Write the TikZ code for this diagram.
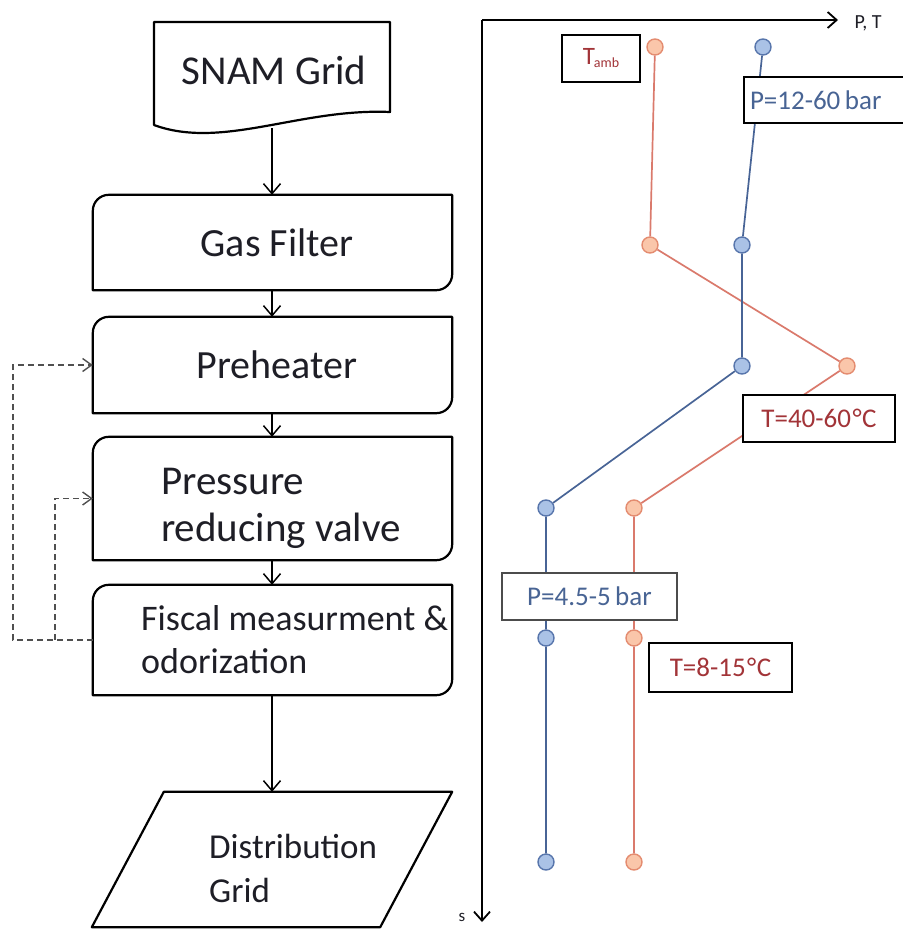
\documentclass[tikz,border=0pt]{standalone}
\usepackage{fontspec}
\setmainfont{Carlito}
\usetikzlibrary{arrows.meta,calc}

\definecolor{ink}{RGB}{30,30,38}
\definecolor{pline}{RGB}{72,100,150}
\definecolor{pfill}{RGB}{170,194,230}
\definecolor{pedge}{RGB}{88,118,172}
\definecolor{ptext}{RGB}{72,100,148}
\definecolor{tline}{RGB}{218,122,108}
\definecolor{tfill}{RGB}{250,198,170}
\definecolor{tedge}{RGB}{228,140,112}
\definecolor{ttext}{RGB}{162,52,56}
\definecolor{dashgray}{RGB}{80,80,80}

% flow box with rounded top-left and bottom-right corners
\newcommand\cutbox[1]{%
  \draw[fb] (#1.south west) -- ($(#1.north west)+(0,16)$)
    to[out=90,in=180] ($(#1.north west)+(16,0)$) -- (#1.north east)
    -- ($(#1.south east)+(0,-16)$)
    to[out=-90,in=0] ($(#1.south east)+(-16,0)$) -- cycle;}

\begin{document}
\begin{tikzpicture}[x=1pt,y=-1pt,
  flowbox/.style={minimum width=359pt, minimum height=#1, inner sep=0pt, draw=none},
  fb/.style={line width=2.2pt, draw=black, line join=round},
  bigtext/.style={font=\fontsize{40}{47}\selectfont, text=ink, inner sep=0pt},
  midtext/.style={font=\fontsize{36}{43}\selectfont, text=ink, inner sep=0pt, align=left},
  flowarrow/.style={-{Straight Barb[length=10pt,width=17pt,line width=1.5pt]}, line width=1.5pt},
  dashline/.style={draw=dashgray, line width=1.8pt, dash pattern=on 6pt off 4pt,
    -{Straight Barb[length=9pt,width=13pt,line width=1.4pt]}},
  axisline/.style={line width=1.8pt, -{Straight Barb[length=9pt,width=16pt,line width=1.8pt]}},
  pdot/.style={circle, minimum size=16pt, inner sep=0pt, fill=pfill, draw=pedge, line width=1.4pt},
  tdot/.style={circle, minimum size=16pt, inner sep=0pt, fill=tfill, draw=tedge, line width=1.4pt},
  pcurve/.style={draw=pline, line width=1.7pt},
  tcurve/.style={draw=tline, line width=1.7pt},
  tag/.style={draw=black, line width=1.8pt, fill=white, inner sep=0pt,
    font=\fontsize{27}{27}\selectfont},
]
\useasboundingbox (0,0) rectangle (903,930);

% ---------------- flow chart ----------------
% SNAM Grid (document shape)
\draw[fb] (154,22) -- (390,22) -- (390,112)
  .. controls (300,108) and (222,150) .. (154,125) -- cycle;
\node[bigtext, font=\fontsize{41}{47}\selectfont] (snam) at (274,70) {SNAM Grid};
\coordinate (snamfoot) at (272,128);

\node[flowbox=95pt] (gas) at (272.5,242.5) {};
\node[flowbox=96pt] (pre) at (272.5,365) {};
\node[flowbox=123pt] (prv) at (272.5,498.5) {};
\node[flowbox=110pt] (fis) at (272.5,640) {};
\cutbox{gas}
\cutbox{pre}
\cutbox{prv}
\cutbox{fis}

\node[bigtext] (gastext) at (277,243) {Gas Filter};
\node[bigtext] (pretext) at (277,365) {Preheater};
\node[bigtext, font=\fontsize{41}{47}\selectfont, align=left, anchor=west] (prvtext) at (161,508) {Pressure\\reducing valve};
\node[midtext, anchor=west] (fistext) at (141,640) {Fiscal measurment \&\\odorization};

% Distribution Grid (parallelogram)
\node[minimum width=288pt, minimum height=135pt, inner sep=0pt] (dist) at (308,859.5) {};
\draw[fb] (dist.north west) -- (dist.north east) -- ($(dist.south east)+(-72,0)$)
  -- ($(dist.south west)+(-72,0)$) -- cycle;
\node[midtext, font=\fontsize{35}{44}\selectfont, anchor=west] (disttext) at (209,868) {Distribution\\Grid};

% flow arrows
\draw[flowarrow] (snamfoot) -- (snamfoot |- gas.north);
\draw[flowarrow] (gas.south -| snamfoot) -- (snamfoot |- pre.north);
\draw[flowarrow] (pre.south -| snamfoot) -- (snamfoot |- prv.north);
\draw[flowarrow] (prv.south -| snamfoot) -- (snamfoot |- fis.north);
\draw[flowarrow] (fis.south -| snamfoot) -- (snamfoot |- dist.north);

% feedback (dashed)
\coordinate (branch) at ($(fis.west)+(-38,0)$);
\draw[dashline] (fis.west) -- ++(-80,0) |- (pre.west);
\draw[dashline] (branch) |- (prv.west);

% ---------------- P, T profile ----------------
\coordinate (origin) at (482,20);
\coordinate (pend) at (838,20);
\coordinate (send) at (482,922);
\draw[axisline] (origin) -- (pend);
\draw[axisline] (origin) -- (send);
\node[font=\fontsize{20}{20}\selectfont, text=ink, anchor=west] (ptlab) at (851,23) {P, T};
\node[font=\fontsize{17}{17}\selectfont, text=ink] (slab) at (462,917) {s};

% temperature points
\node[tdot] (t1) at (655,47) {};
\node[tdot] (t2) at (650,245) {};
\node[tdot] (t3) at (847,366) {};
\node[tdot] (t4) at (634,508) {};
\node[tdot] (t5) at (634,638) {};
\node[tdot] (t6) at (634,862) {};
% pressure points
\node[pdot] (p1) at (763,47) {};
\node[pdot] (p2) at (742,245) {};
\node[pdot] (p3) at (742,366) {};
\node[pdot] (p4) at (546,508) {};
\node[pdot] (p5) at (546,638) {};
\node[pdot] (p6) at (546,862) {};

\draw[tcurve] (t1) -- (t2) -- (t3) -- (t4) -- (t5) -- (t6);
\draw[pcurve] (p1) -- (p2) -- (p3) -- (p4) -- (p5) -- (p6);

% value tags
\node[tag, minimum width=78pt, minimum height=47pt, text=ttext] (tamb) at (601,58.5)
  {\fontsize{25}{25}\selectfont T\kern-1pt\raisebox{-3pt}{\fontsize{14}{14}\selectfont amb}};
\node[tag, minimum height=46pt, text width=150pt, align=left, inner xsep=6pt, text=ptext]
  (phigh) at (825,100) {P=12-60\,bar};
\node[tag, minimum width=152pt, minimum height=47pt, text=ttext] (thigh) at (819,418.5) {T=40-60\kern1.5pt°\kern0.5pt C};
\node[tag, draw=black!70, minimum width=175pt, minimum height=47pt, text=ptext] (plow) at (589.5,596.5) {P=4.5-5\,bar};
\node[tag, minimum width=143pt, minimum height=49pt, text=ttext] (tlow) at (720.5,667.5) {T=8-15\kern1.5pt°\kern0.5pt C};
\end{tikzpicture}
\end{document}
